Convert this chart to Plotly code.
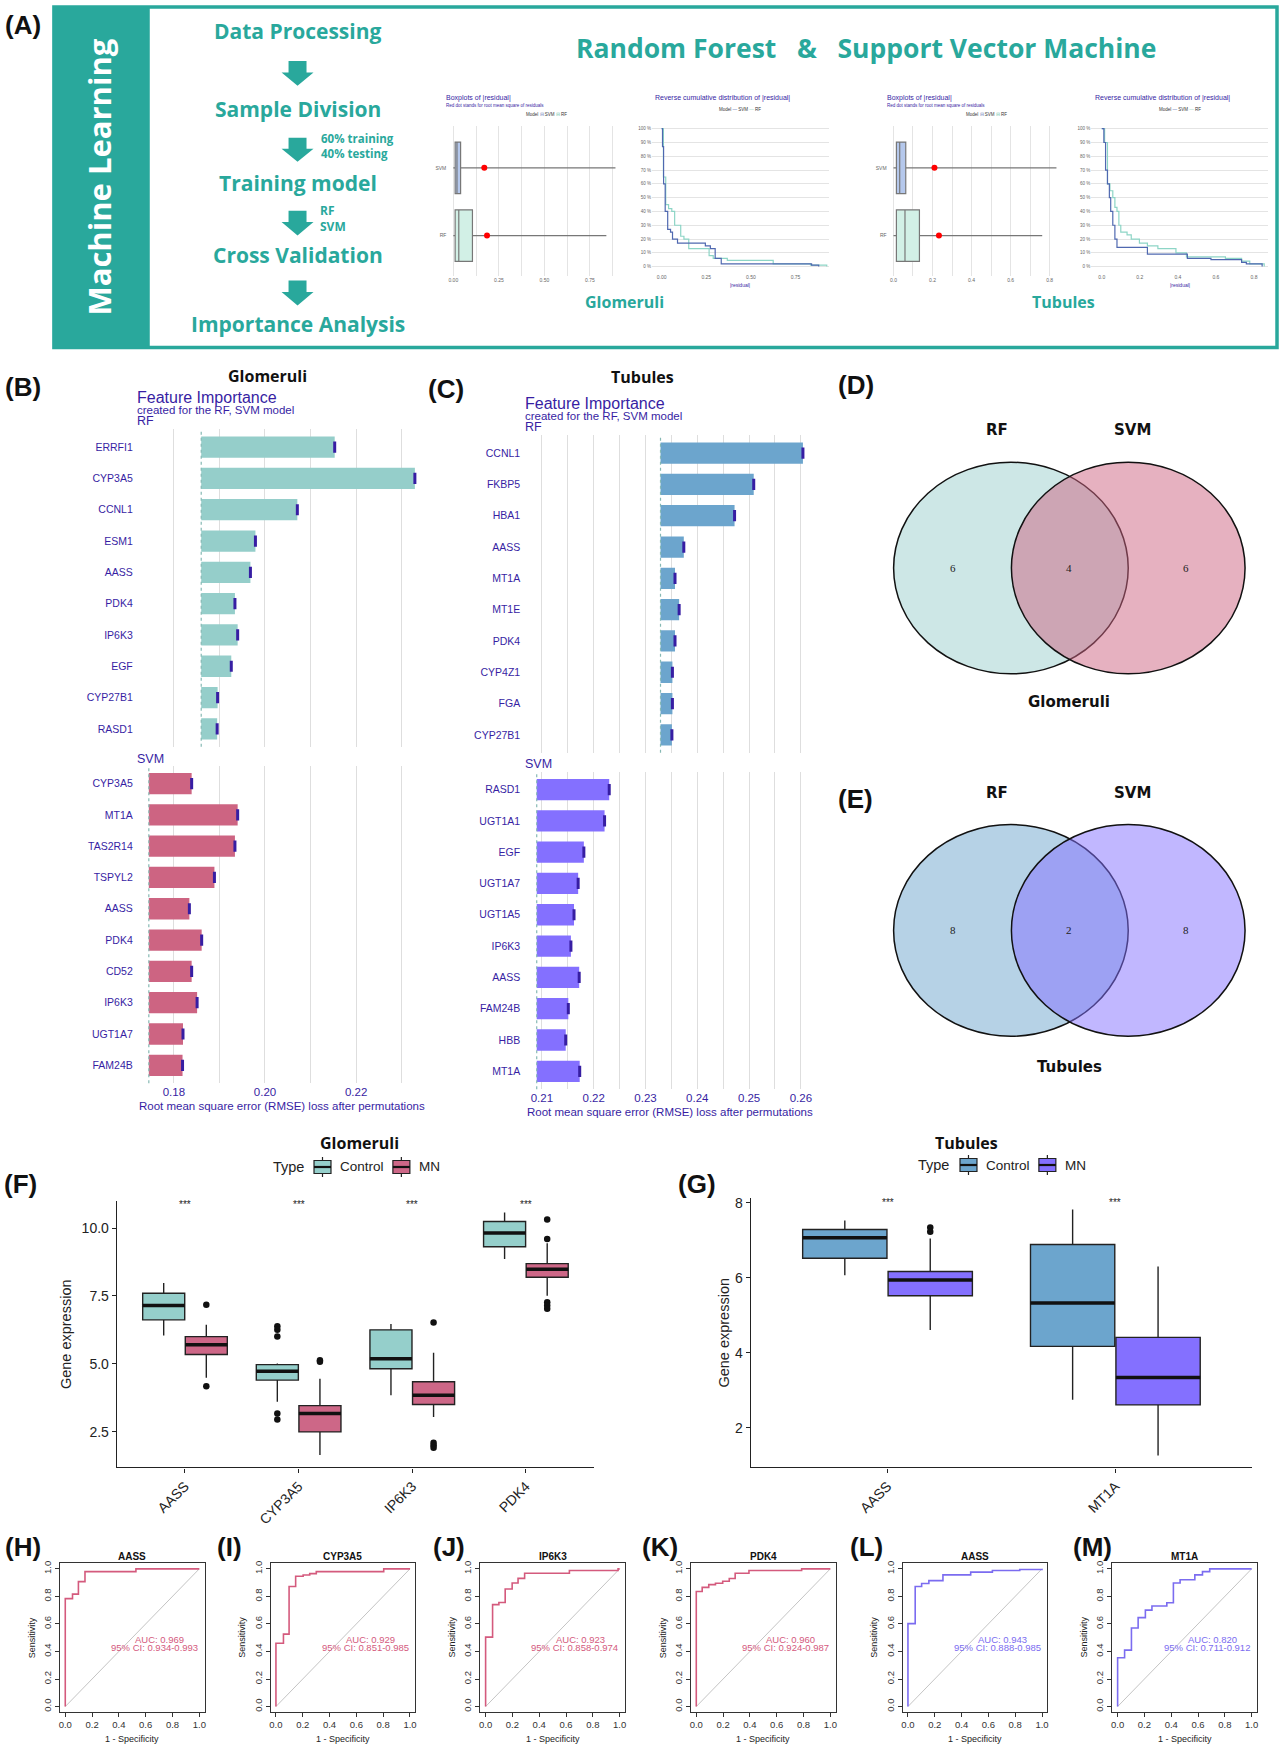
import plotly.graph_objects as go

W, H = 1283, 1748
TEAL = '#29A89C'
NAVY = '#371EA3'
FONT = 'Liberation Sans, Arial, sans-serif'
HEAD = 'Open Sans, sans-serif'

# ---------------- DATA ----------------
# Panel A mini charts (residual boxplots, RF then SVM)
a_models = ['RF', 'SVM']
a_glom_q1 = [0.010, 0.010]
a_glom_med = [0.030, 0.020]
a_glom_q3 = [0.105, 0.040]
a_glom_lo = [0.0, 0.0]
a_glom_hi = [0.84, 0.89]
a_glom_rmse = [0.185, 0.170]
a_tub_q1 = [0.015, 0.015]
a_tub_med = [0.059, 0.032]
a_tub_q3 = [0.133, 0.063]
a_tub_lo = [0.0, 0.0]
a_tub_hi = [0.762, 0.835]
a_tub_rmse = [0.233, 0.210]
# reverse cumulative distributions (|residual|, %)
rcd_glom_svm_x = [0, 0.005, 0.011, 0.02, 0.034, 0.05, 0.061, 0.089, 0.245, 0.273, 0.30, 0.334, 0.625, 0.84, 0.88]
rcd_glom_svm_y = [100, 87, 60, 40, 27, 25, 20, 17, 15, 13, 6, 2, 2, 1, 0]
rcd_glom_rf_x = [0, 0.01, 0.023, 0.039, 0.057, 0.073, 0.107, 0.125, 0.152, 0.266, 0.289, 0.368, 0.625, 0.834, 0.925]
rcd_glom_rf_y = [100, 65, 45, 42, 40, 30, 22, 20, 13, 8, 6, 4.5, 2, 1, 0]
rcd_tub_svm_x = [0, 0.011, 0.02, 0.03, 0.04, 0.047, 0.058, 0.069, 0.08, 0.24, 0.39, 0.45, 0.574, 0.735, 0.76, 0.843]
rcd_tub_svm_y = [100, 90, 70, 60, 50, 40, 30, 20, 14, 9, 9, 6, 5, 3, 2, 0]
rcd_tub_rf_x = [0, 0.015, 0.03, 0.043, 0.058, 0.069, 0.08, 0.09, 0.1, 0.133, 0.155, 0.198, 0.24, 0.295, 0.39, 0.445, 0.65, 0.735, 0.778, 0.854]
rcd_tub_rf_y = [100, 90, 60, 55, 50, 43, 40, 30, 25, 23, 20, 17, 15, 13, 10, 7, 6, 4, 2, 0]

# Panel B (Glomeruli feature importance)
glom_rf_genes = ["ERRFI1", "CYP3A5", "CCNL1", "ESM1", "AASS", "PDK4", "IP6K3", "EGF", "CYP27B1", "RASD1"]
glom_rf_loss = [0.2153, 0.2329, 0.2071, 0.1979, 0.1968, 0.1934, 0.1940, 0.1926, 0.1896, 0.1895]
glom_rf_base = 0.1860
glom_svm_genes = ["CYP3A5", "MT1A", "TAS2R14", "TSPYL2", "AASS", "PDK4", "CD52", "IP6K3", "UGT1A7", "FAM24B"]
glom_svm_loss = [0.1839, 0.1940, 0.1934, 0.1889, 0.1834, 0.1861, 0.1839, 0.1851, 0.1820, 0.1819]
glom_svm_base = 0.1745
# Panel C (Tubules feature importance)
tub_rf_genes = ["CCNL1", "FKBP5", "HBA1", "AASS", "MT1A", "MT1E", "PDK4", "CYP4Z1", "FGA", "CYP27B1"]
tub_rf_loss = [0.2604, 0.2509, 0.2472, 0.2374, 0.2357, 0.2365, 0.2357, 0.2352, 0.2352, 0.2351]
tub_rf_base = 0.2329
tub_svm_genes = ["RASD1", "UGT1A1", "EGF", "UGT1A7", "UGT1A5", "IP6K3", "AASS", "FAM24B", "HBB", "MT1A"]
tub_svm_loss = [0.2230, 0.2221, 0.2181, 0.2170, 0.2162, 0.2156, 0.2172, 0.2151, 0.2146, 0.2173]
tub_svm_base = 0.2090

# Panels D/E Venn counts (RF only, both, SVM only)
venn_glom = [6, 4, 6]
venn_tub = [8, 2, 8]

# Panel F boxplots (Glomeruli)
f_genes = ["AASS", "CYP3A5", "IP6K3", "PDK4"]
f_ctrl_q1 = [6.62, 4.40, 4.82, 9.31]
f_ctrl_med = [7.15, 4.73, 5.19, 9.82]
f_ctrl_q3 = [7.60, 4.97, 6.25, 10.24]
f_ctrl_lo = [6.04, 3.60, 3.84, 8.86]
f_ctrl_hi = [7.98, 5.01, 6.47, 10.57]
f_ctrl_out_gene = [1, 1, 1, 1, 1]
f_ctrl_out_val = [6.38, 6.25, 6.01, 3.17, 2.95]
f_mn_q1 = [5.34, 2.49, 3.50, 8.19]
f_mn_med = [5.70, 3.17, 3.84, 8.48]
f_mn_q3 = [6.00, 3.46, 4.34, 8.69]
f_mn_lo = [4.49, 1.64, 3.04, 7.51]
f_mn_hi = [6.44, 4.45, 5.41, 9.44]
f_mn_out_gene = [0, 0, 1, 1, 2, 2, 2, 2, 3, 3, 3, 3, 3]
f_mn_out_val = [7.18, 4.17, 5.13, 5.08, 6.52, 2.09, 2.00, 1.91, 10.32, 9.60, 7.27, 7.15, 7.03]
f_sig = ["***", "***", "***", "***"]
# Panel G boxplots (Tubules)
g_genes = ["AASS", "MT1A"]
g_ctrl_q1 = [6.52, 4.17]
g_ctrl_med = [7.07, 5.33]
g_ctrl_q3 = [7.29, 6.89]
g_ctrl_lo = [6.07, 2.75]
g_ctrl_hi = [7.53, 7.82]
g_ctrl_out_gene = []
g_ctrl_out_val = []
g_mn_q1 = [5.52, 2.61]
g_mn_med = [5.94, 3.34]
g_mn_q3 = [6.17, 4.41]
g_mn_lo = [4.61, 1.26]
g_mn_hi = [7.05, 6.30]
g_mn_out_gene = [0, 0]
g_mn_out_val = [7.34, 7.23]
g_sig = ["***", "***"]
group_names = ["Control", "MN"]

# Panels H-M ROC curves (1 - specificity, sensitivity)
roc_titles = ["AASS", "CYP3A5", "IP6K3", "PDK4", "AASS", "MT1A"]
roc_labels = ["(H)", "(I)", "(J)", "(K)", "(L)", "(M)"]
roc_fpr = [
    [0, 0, 0.054, 0.098, 0.147, 0.527, 1.0],
    [0, 0, 0.056, 0.098, 0.147, 0.203, 0.252, 0.301, 0.804, 1.0],
    [0, 0, 0.052, 0.099, 0.146, 0.198, 0.242, 0.291, 0.625, 0.988, 1.0],
    [0, 0, 0.044, 0.093, 0.143, 0.197, 0.246, 0.29, 0.393, 0.786, 1.0],
    [0, 0, 0.054, 0.102, 0.156, 0.261, 0.468, 0.63, 0.834, 1.0],
    [0, 0, 0.052, 0.103, 0.153, 0.207, 0.256, 0.367, 0.416, 0.466, 0.576, 0.633, 0.687, 1.0],
]
roc_tpr = [
    [0, 0.784, 0.816, 0.907, 0.98, 1.0, 1.0],
    [0, 0.46, 0.526, 0.872, 0.946, 0.955, 0.965, 0.98, 1.0, 1.0],
    [0, 0.504, 0.74, 0.755, 0.853, 0.897, 0.931, 0.968, 0.988, 1.0, 1.0],
    [0, 0.835, 0.865, 0.885, 0.895, 0.91, 0.93, 0.968, 0.988, 1.0, 1.0],
    [0, 0.602, 0.872, 0.894, 0.914, 0.956, 0.976, 0.988, 0.995, 1.0],
    [0, 0.354, 0.41, 0.57, 0.646, 0.70, 0.73, 0.754, 0.897, 0.921, 0.956, 0.98, 1.0, 1.0],
]
roc_auc = ["0.969", "0.929", "0.923", "0.960", "0.943", "0.820"]
roc_ci = ["0.934-0.993", "0.851-0.985", "0.858-0.974", "0.924-0.987", "0.888-0.985", "0.711-0.912"]
roc_group = ["glom", "glom", "glom", "glom", "tub", "tub"]

# ---------------- HELPERS ----------------
fig = go.Figure()
layout = {}
shapes = []
annotations = []


def X(x):
    return x / W


def Y(y):
    return 1 - y / H


def axis(i, x0, x1, y0, y1, xa, ya):
    s = '' if i == 1 else str(i)
    layout['xaxis' + s] = dict(domain=[X(x0), X(x1)], anchor='y' + s, fixedrange=True, **xa)
    layout['yaxis' + s] = dict(domain=[Y(y1), Y(y0)], anchor='x' + s, fixedrange=True, **ya)
    return 'x' + s, 'y' + s


def text(t, x, y, size, color='#111', bold=False, family=FONT, xanchor='center',
         yanchor='middle', angle=0, xref='paper', yref='paper', align='center'):
    if bold:
        t = '<b>' + t + '</b>'
    xx = X(x) if xref == 'paper' else x
    yy = Y(y) if yref == 'paper' else y
    annotations.append(dict(text=t, x=xx, y=yy, xref=xref, yref=yref, showarrow=False,
                            font=dict(size=size, color=color, family=family), align=align,
                            xanchor=xanchor, yanchor=yanchor, textangle=angle, borderpad=0))


def rect(x0, y0, x1, y1, fill=None, line=None, lw=0, layer='below'):
    shapes.append(dict(type='rect', xref='paper', yref='paper', x0=X(x0), x1=X(x1), y0=Y(y1), y1=Y(y0),
                       fillcolor=fill if fill else 'rgba(0,0,0,0)',
                       line=dict(color=line if line else 'rgba(0,0,0,0)', width=lw), layer=layer))


def pline(x0, y0, x1, y1, color, width):
    shapes.append(dict(type='line', xref='paper', yref='paper', x0=X(x0), x1=X(x1), y0=Y(y0), y1=Y(y1),
                       line=dict(color=color, width=width)))


def arrow(cx, ytop, ybot):
    sh, hh, hy = 9, 16, ytop + (ybot - ytop) * 0.46
    pts = [(cx - sh, ytop), (cx + sh, ytop), (cx + sh, hy), (cx + hh, hy), (cx, ybot),
           (cx - hh, hy), (cx - sh, hy)]
    path = 'M ' + ' L '.join(f'{X(a):.5f} {Y(b):.5f}' for a, b in pts) + ' Z'
    shapes.append(dict(type='path', xref='paper', yref='paper', path=path, fillcolor=TEAL,
                       line=dict(width=0)))


# ---------------- PANEL A ----------------
rect(53, 4, 1278, 345, line=TEAL, lw=3.5)
rect(53, 4, 149, 345, fill=TEAL)
text('Machine Learning', 98, 174, 31, 'white', True, HEAD, angle=-90)
text('(A)', 22, 22, 26, '#111', True)

flow = [('Data Processing', 28), ('Sample Division', 106), ('Training model', 180),
        ('Cross Validation', 252), ('Importance Analysis', 322)]
for t, yy in flow:
    text(t, 297, yy, 21, TEAL, True, HEAD)
for a, b in [(58, 83), (135, 159), (208, 233), (278, 303)]:
    arrow(297, a, b)
text('60% training<br>40% testing', 319, 143, 11.5, TEAL, True, HEAD, xanchor='left', align='left')
text('RF<br>SVM', 318, 216, 12, TEAL, True, HEAD, xanchor='left', align='left')
text('Random Forest\u00a0\u00a0\u00a0&\u00a0\u00a0\u00a0Support Vector Machine', 866, 45, 26.5, TEAL, True, HEAD)
text('Glomeruli', 624, 300, 16, TEAL, True, HEAD)
text('Tubules', 1064, 300, 16, TEAL, True, HEAD)

RF_FILL, SVM_FILL = '#D2F0E6', '#B5C8EC'
RCD_SVM, RCD_RF = '#4F68B0', '#8DD5C6'


def mini_box(i, dom, q1, med, q3, lo, hi, rmse, xr, tv, tt, title_x):
    xa, ya = axis(i, *dom,
                  xa=dict(range=xr, tickvals=tv, ticktext=tt, tickfont=dict(size=5, color='#666', family=FONT),
                          showgrid=True, gridcolor='#E4E4E4', gridwidth=1, zeroline=False, showline=False, ticks=''),
                  ya=dict(range=[-0.59, 1.62], tickvals=[0, 1], ticktext=a_models,
                          tickfont=dict(size=5, color='#666', family=FONT),
                          showgrid=False, zeroline=False, showline=False, ticks=''))
    for k, fill in enumerate([RF_FILL, SVM_FILL]):
        fig.add_trace(go.Box(orientation='h', y=[k], q1=[q1[k]], median=[med[k]], q3=[q3[k]],
                             lowerfence=[lo[k]], upperfence=[hi[k]], width=0.76, fillcolor=fill,
                             line=dict(color='#777', width=1.2), whiskerwidth=0, xaxis=xa, yaxis=ya,
                             showlegend=False, hoverinfo='skip'))
    fig.add_trace(go.Scatter(x=rmse, y=[0, 1], mode='markers', marker=dict(color='#FF0000', size=6),
                             xaxis=xa, yaxis=ya, showlegend=False, hoverinfo='skip'))
    text('Boxplots of |residual|', title_x, 95, 7, NAVY, xanchor='left')
    text('Red dot stands for root mean square of residuals', title_x, 103, 4.5, NAVY, xanchor='left')
    text('Model <span style="color:#7d8fc4">\u229f</span> SVM <span style="color:#7fc9b2">\u229f</span> RF',
         (dom[0] + dom[1]) / 2 + 12, 112, 4.5, '#333')


def mini_rcd(i, dom, sx, sy, rx, ry, xr, tv, tt, title_x):
    xa, ya = axis(i, *dom,
                  xa=dict(range=xr, tickvals=tv, ticktext=tt, tickfont=dict(size=5, color='#666', family=FONT),
                          showgrid=False, zeroline=False, showline=False, ticks=''),
                  ya=dict(range=[-4.3, 104.3], tickvals=list(range(0, 101, 10)),
                          ticktext=[f'{v} %' for v in range(0, 101, 10)],
                          tickfont=dict(size=4.5, color='#666', family=FONT),
                          showgrid=True, gridcolor='#E4E4E4', gridwidth=1, zeroline=False, ticks=''))
    fig.add_trace(go.Scatter(x=rx, y=ry, mode='lines', line=dict(color=RCD_RF, width=1.2, shape='hv'),
                             xaxis=xa, yaxis=ya, showlegend=False, hoverinfo='skip'))
    fig.add_trace(go.Scatter(x=sx, y=sy, mode='lines', line=dict(color=RCD_SVM, width=1.2, shape='hv'),
                             xaxis=xa, yaxis=ya, showlegend=False, hoverinfo='skip'))
    text('Reverse cumulative distribution of |residual|', title_x, 95, 7, NAVY, xanchor='left')
    text(f'Model <span style="color:{RCD_SVM}">\u2014</span> SVM <span style="color:{RCD_RF}">\u2014</span> RF',
         (dom[0] + dom[1]) / 2, 107, 4.5, '#333')
    text('|residual|', (dom[0] + dom[1]) / 2, 282, 5, NAVY)


mini_box(1, (447, 622, 123, 273), a_glom_q1, a_glom_med, a_glom_q3, a_glom_lo, a_glom_hi, a_glom_rmse,
         [-0.033, 0.926], [0, 0.125, 0.25, 0.375, 0.5, 0.625, 0.75, 0.875],
         ['0.00', '', '0.25', '', '0.50', '', '0.75', ''], 445)
mini_rcd(2, (652, 829, 120, 270), rcd_glom_svm_x, rcd_glom_svm_y, rcd_glom_rf_x, rcd_glom_rf_y,
         [-0.054, 0.936], [0, 0.25, 0.5, 0.75], ['0.00', '0.25', '0.50', '0.75'], 654)
mini_box(3, (888, 1062, 123, 273), a_tub_q1, a_tub_med, a_tub_q3, a_tub_lo, a_tub_hi, a_tub_rmse,
         [-0.03, 0.86], [0, 0.1, 0.2, 0.3, 0.4, 0.5, 0.6, 0.7, 0.8],
         ['0.0', '', '0.2', '', '0.4', '', '0.6', '', '0.8'], 886)
mini_rcd(4, (1092, 1269, 120, 270), rcd_tub_svm_x, rcd_tub_svm_y, rcd_tub_rf_x, rcd_tub_rf_y,
         [-0.055, 0.874], [0, 0.2, 0.4, 0.6, 0.8], ['0.0', '0.2', '0.4', '0.6', '0.8'], 1095)


# ---------------- PANELS B / C ----------------
def fi_facet(i, dom, genes, loss, base, color, xr, tv, tt, show_x):
    xa_kw = dict(range=xr, tickvals=tv, ticktext=tt, showgrid=True, gridcolor='#DEDEDE', gridwidth=1.3,
                 zeroline=False, showline=False, ticks='', showticklabels=show_x,
                 tickfont=dict(size=11.5, color=NAVY, family=FONT))
    ya_kw = dict(type='category', categoryorder='array', categoryarray=genes, range=[9.57, -0.57],
                 showgrid=False, zeroline=False, showline=False, ticks='',
                 tickfont=dict(size=10.5, color=NAVY, family=FONT))
    xa, ya = axis(i, *dom, xa=xa_kw, ya=ya_kw)
    fig.add_trace(go.Bar(y=genes, x=[v - base for v in loss], base=[base] * len(genes), orientation='h',
                         marker=dict(color=color, line=dict(width=0)), width=0.68,
                         xaxis=xa, yaxis=ya, showlegend=False, hoverinfo='skip'))
    fig.add_trace(go.Scatter(y=genes, x=loss, mode='markers',
                             marker=dict(symbol='line-ns', size=8, line=dict(width=3, color=NAVY)),
                             xaxis=xa, yaxis=ya, showlegend=False, hoverinfo='skip'))
    shapes.append(dict(type='line', xref=xa, yref=ya + ' domain', x0=base, x1=base, y0=0, y1=1,
                       line=dict(color='#86B9B4', width=1.2, dash='dot')))


b_tv = [0.18, 0.19, 0.20, 0.21, 0.22, 0.23]
b_tt = ['0.18', '', '0.20', '', '0.22', '']
fi_facet(5, (133, 420, 427, 745), glom_rf_genes, glom_rf_loss, glom_rf_base, '#95CECA',
         [0.1712, 0.2341], b_tv, b_tt, False)
fi_facet(6, (133, 420, 764, 1082), glom_svm_genes, glom_svm_loss, glom_svm_base, '#CD6482',
         [0.1712, 0.2341], b_tv, b_tt, True)
c_tv = [0.21, 0.215, 0.22, 0.225, 0.23, 0.235, 0.24, 0.245, 0.25, 0.255, 0.26]
c_tt = ['0.21', '', '0.22', '', '0.23', '', '0.24', '', '0.25', '', '0.26']
fi_facet(7, (521, 812, 433, 751), tub_rf_genes, tub_rf_loss, tub_rf_base, '#6CA5CD',
         [0.2060, 0.2621], c_tv, c_tt, False)
fi_facet(8, (521, 812, 770, 1088), tub_svm_genes, tub_svm_loss, tub_svm_base, '#8470FF',
         [0.2060, 0.2621], c_tv, c_tt, True)

text('(B)', 22, 385, 26, '#111', True)
text('Glomeruli', 267, 374, 16, '#111', True, HEAD)
text('Feature Importance', 135, 395, 16, NAVY, xanchor='left')
text('created for the RF, SVM model', 135, 408, 11.5, NAVY, xanchor='left')
text('RF', 135, 419, 12.5, NAVY, xanchor='left')
text('SVM', 135, 757, 12.5, NAVY, xanchor='left')
text('Root mean square error (RMSE) loss after permutations', 281, 1105, 11.5, NAVY)

text('(C)', 446, 387, 26, '#111', True)
text('Tubules', 643, 375, 16, '#111', True, HEAD)
text('Feature Importance', 524, 401, 16, NAVY, xanchor='left')
text('created for the RF, SVM model', 524, 414, 11.5, NAVY, xanchor='left')
text('RF', 524, 425, 12.5, NAVY, xanchor='left')
text('SVM', 524, 762, 12.5, NAVY, xanchor='left')
text('Root mean square error (RMSE) loss after permutations', 670, 1111, 11.5, NAVY)


# ---------------- PANELS D / E ----------------
VFONT = 'DejaVu Sans, Verdana, sans-serif'


def venn(cy, ry, counts, lcol, rcol, name, label, label_y, title_y, name_y):
    for x0, x1, col in [(894, 1129, lcol), (1012, 1246, rcol)]:
        shapes.append(dict(type='circle', xref='paper', yref='paper', x0=X(x0), x1=X(x1),
                           y0=Y(cy + ry), y1=Y(cy - ry), fillcolor=col, line=dict(color='#111', width=1.5)))
    for xx, c in zip([953, 1070, 1187], counts):
        text(str(c), xx, cy, 11, '#222', family='Liberation Serif, Times New Roman, serif')
    text('RF', 998, title_y, 15, '#111', True, VFONT)
    text('SVM', 1133, title_y, 15, '#111', True, VFONT)
    text(name, 1070, name_y, 15, '#111', True, VFONT)
    text(label, 856, label_y, 26, '#111', True)


venn(566, 106, venn_glom, 'rgba(155,207,205,0.5)', 'rgba(205,99,129,0.5)', 'Glomeruli', '(D)', 383, 428, 700)
venn(929, 106, venn_tub, 'rgba(109,165,205,0.5)', 'rgba(132,112,255,0.5)', 'Tubules', '(E)', 797, 791, 1066)


# ---------------- PANELS F / G ----------------
def box_panel(i, dom, genes, ctrl, mn, ctrl_out, mn_out, sig, yr, ytv, ytt, sig_y, cols,
              title, tx, ytx, leg):
    xa, ya = axis(i, *dom,
                  xa=dict(range=[-0.6, len(genes) - 0.4], tickvals=list(range(len(genes))), ticktext=genes,
                          tickangle=-45, tickfont=dict(size=14, color='#222', family=FONT),
                          showline=True, linecolor='#222', linewidth=1.3, ticks='outside', ticklen=4,
                          tickcolor='#222', showgrid=False, zeroline=False),
                  ya=dict(range=yr, tickvals=ytv, ticktext=ytt, tickfont=dict(size=14, color='#222', family=FONT),
                          showline=True, linecolor='#222', linewidth=1.3, ticks='outside', ticklen=4,
                          tickcolor='#222', showgrid=False, zeroline=False))
    off = 0.1875
    for stats, outs, sgn, col in [(ctrl, ctrl_out, -1, cols[0]), (mn, mn_out, 1, cols[1])]:
        q1, med, q3, lo, hi = stats
        pos = [k + sgn * off for k in range(len(genes))]
        fig.add_trace(go.Box(x=pos, q1=q1, median=med, q3=q3, lowerfence=lo, upperfence=hi, width=0.37,
                             fillcolor=col, line=dict(color='#222', width=1.4), whiskerwidth=0,
                             showlegend=False, xaxis=xa, yaxis=ya, hoverinfo='skip'))
        mx, my = [], []
        for p, m in zip(pos, med):
            mx += [p - 0.185, p + 0.185, None]
            my += [m, m, None]
        fig.add_trace(go.Scatter(x=mx, y=my, mode='lines', line=dict(color='#111', width=3.5),
                                 xaxis=xa, yaxis=ya, showlegend=False, hoverinfo='skip'))
        og, ov = outs
        if og:
            fig.add_trace(go.Scatter(x=[g + sgn * off for g in og], y=ov, mode='markers',
                                     marker=dict(color='#111', size=6.5), xaxis=xa, yaxis=ya,
                                     showlegend=False, hoverinfo='skip'))
    for k, s in enumerate(sig):
        text(s, k, sig_y, 10, '#222', xref=xa, yref=ya)
    text(title, tx, 1142, 16, '#111', True, HEAD)
    text('Gene expression', ytx, (dom[2] + dom[3]) / 2, 14.5, '#222', angle=-90)
    # legend (Type: Control / MN) drawn as ggplot-like keys
    ly, type_x, keys = leg
    text('Type', type_x, ly, 14.5, '#222')
    for (kx, tx2), col, name in zip(keys, cols, group_names):
        pline(kx, ly - 10, kx, ly + 10, '#222', 1.2)
        rect(kx - 8.5, ly - 6.5, kx + 8.5, ly + 6.5, fill=col, line='#222', lw=1.2, layer='above')
        pline(kx - 8.5, ly, kx + 8.5, ly, '#111', 2.2)
        text(name, tx2, ly, 13.5, '#222', xanchor='left')


box_panel(9, (116, 594, 1200, 1467), f_genes,
          (f_ctrl_q1, f_ctrl_med, f_ctrl_q3, f_ctrl_lo, f_ctrl_hi),
          (f_mn_q1, f_mn_med, f_mn_q3, f_mn_lo, f_mn_hi),
          (f_ctrl_out_gene, f_ctrl_out_val), (f_mn_out_gene, f_mn_out_val), f_sig,
          [1.18, 11.0], [2.5, 5, 7.5, 10], ['2.5', '5.0', '7.5', '10.0'], 10.88,
          ('#95CFCB', '#CD6787'), 'Glomeruli', 359, 65,
          (1166, 288, [(322, 339), (401, 418)]))
box_panel(10, (751, 1253, 1197, 1467), g_genes,
          (g_ctrl_q1, g_ctrl_med, g_ctrl_q3, g_ctrl_lo, g_ctrl_hi),
          (g_mn_q1, g_mn_med, g_mn_q3, g_mn_lo, g_mn_hi),
          (g_ctrl_out_gene, g_ctrl_out_val), (g_mn_out_gene, g_mn_out_val), g_sig,
          [0.94, 8.13], [2, 4, 6, 8], ['2', '4', '6', '8'], 8.02,
          ('#6CA5CD', '#8470FF'), 'Tubules', 967, 724,
          (1164, 934, [(969, 986), (1048, 1065)]))
text('(F)', 20, 1183, 26, '#111', True)
text('(G)', 697, 1183, 26, '#111', True)

# ---------------- PANELS H - M ----------------
roc_left = [59, 270, 480, 691, 903, 1113]
roc_lab_x = [22, 229, 449, 660, 867, 1093]
for k in range(6):
    i = 11 + k
    x0 = roc_left[k]
    col = '#D45A7D' if roc_group[k] == 'glom' else '#7B6CF0'
    ax_common = dict(range=[-0.04, 1.04], tickvals=[0, 0.2, 0.4, 0.6, 0.8, 1.0],
                     ticktext=['0.0', '0.2', '0.4', '0.6', '0.8', '1.0'],
                     tickfont=dict(size=9.5, color='#333', family=FONT), showline=True, mirror=True,
                     linecolor='#333', linewidth=1, ticks='outside', ticklen=4, tickcolor='#333',
                     showgrid=False, zeroline=False)
    xa, ya = axis(i, x0, x0 + 145, 1563, 1712, xa=dict(ax_common), ya=dict(ax_common, tickangle=-90))
    fig.add_trace(go.Scatter(x=[0, 1], y=[0, 1], mode='lines', line=dict(color='#C4C4C4', width=1),
                             xaxis=xa, yaxis=ya, showlegend=False, hoverinfo='skip'))
    fig.add_trace(go.Scatter(x=roc_fpr[k], y=roc_tpr[k], mode='lines',
                             line=dict(color=col, width=1.6, shape='hv'),
                             xaxis=xa, yaxis=ya, showlegend=False, hoverinfo='skip'))
    text('AUC: ' + roc_auc[k], 0.705, 0.49, 9.5, col, xref=xa, yref=ya)
    text('95% CI: ' + roc_ci[k], 0.665, 0.43, 9.5, col, xref=xa, yref=ya)
    text(roc_titles[k], x0 + 72.5, 1556, 10, '#111', True)
    text('1 - Specificity', x0 + 72.5, 1739, 9, '#222')
    text('Sensitivity', x0 - 28, 1637, 9, '#222', angle=-90)
    text(roc_labels[k], roc_lab_x[k], 1547, 26, '#111', True)

# ---------------- LAYOUT ----------------
fig.update_layout(width=W, height=H, margin=dict(l=0, r=0, t=0, b=0), paper_bgcolor='white',
                  plot_bgcolor='rgba(0,0,0,0)', font=dict(family=FONT), shapes=shapes,
                  annotations=annotations, showlegend=False, **layout)
fig.write_html('out.html', config={'displayModeBar': False},
               post_script="document.body.style.margin='0';document.body.style.overflow='hidden';")
